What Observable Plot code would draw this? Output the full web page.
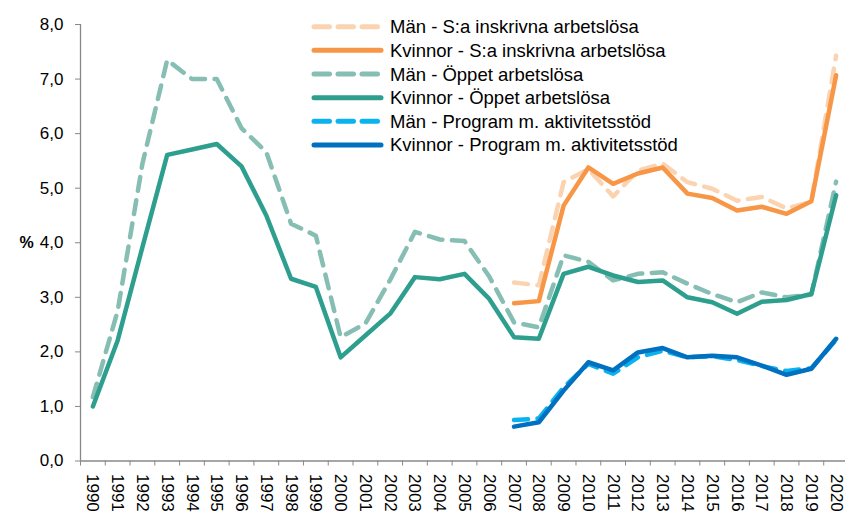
<!DOCTYPE html>
<html>
<head>
<meta charset="utf-8">
<script src="https://cdn.jsdelivr.net/npm/d3@7"></script>
<script src="https://cdn.jsdelivr.net/npm/@observablehq/plot@0.6"></script>
<style>
  body { margin: 0; background: #fff; }
  #chart svg { display: block; }
</style>
</head>
<body>
<div id="chart"></div>
<script>
// ---- Data ----
const years = [1990,1991,1992,1993,1994,1995,1996,1997,1998,1999,2000,2001,2002,2003,2004,2005,2006,2007,2008,2009,2010,2011,2012,2013,2014,2015,2016,2017,2018,2019,2020];
const yearsRecent = [2007,2008,2009,2010,2011,2012,2013,2014,2015,2016,2017,2018,2019,2020];

const menTotal   = [3.27,3.22,5.11,5.35,4.85,5.32,5.45,5.11,4.99,4.77,4.84,4.63,4.75,7.43];
const womenTotal = [2.89,2.93,4.68,5.38,5.08,5.27,5.38,4.90,4.82,4.59,4.66,4.53,4.76,7.07];
const menOpen    = [1.17,2.75,5.45,7.35,7.00,7.00,6.10,5.66,4.35,4.13,2.27,2.52,3.32,4.20,4.06,4.03,3.38,2.54,2.45,3.77,3.65,3.31,3.43,3.46,3.25,3.06,2.91,3.09,3.00,3.05,5.12];
const womenOpen  = [1.00,2.21,3.92,5.61,5.71,5.81,5.40,4.50,3.34,3.19,1.90,2.30,2.70,3.37,3.33,3.43,2.97,2.27,2.24,3.43,3.56,3.40,3.28,3.31,3.00,2.91,2.70,2.92,2.95,3.06,4.87];
const menProg    = [0.75,0.78,1.35,1.78,1.60,1.90,2.02,1.90,1.92,1.85,1.74,1.65,1.70,2.22];
const womenProg  = [0.63,0.71,1.29,1.81,1.66,1.99,2.07,1.90,1.93,1.90,1.75,1.58,1.69,2.24];

const seriesNames = [
  "Män - S:a inskrivna arbetslösa",
  "Kvinnor - S:a inskrivna arbetslösa",
  "Män - Öppet arbetslösa",
  "Kvinnor - Öppet arbetslösa",
  "Män - Program m. aktivitetsstöd",
  "Kvinnor - Program m. aktivitetsstöd"
];
const seriesColors = ["#FCD3B1", "#F79646", "#86BEB4", "#2E9F8F", "#0BB2EE", "#0070C0"];
const seriesDashed = [true, false, true, false, true, false];
const yTicks = [0,1,2,3,4,5,6,7,8];

// ---- Build tables ----
function rows(xs, vals) { return xs.map((x, i) => ({year: x, value: vals[i]})); }
const seriesData = [
  rows(yearsRecent, menTotal),
  rows(yearsRecent, womenTotal),
  rows(years, menOpen),
  rows(years, womenOpen),
  rows(yearsRecent, menProg),
  rows(yearsRecent, womenProg)
];

const fmt = d => d.toFixed(1).replace(".", ",");
const boundaries = years.map(y => y - 0.5).concat([years[years.length - 1] + 0.5]);
const DASH = "14,9.5";
const FONT = "'Liberation Sans', Arial, sans-serif";

const lineMarks = seriesData.map((data, i) =>
  Plot.line(data, {
    x: "year", y: "value",
    stroke: seriesColors[i],
    strokeWidth: 4.5,
    strokeDasharray: seriesDashed[i] ? DASH : null,
    strokeLinecap: "round",
    strokeLinejoin: "round"
  })
);

const svg = Plot.plot({
  width: 845,
  height: 512,
  marginLeft: 80,
  marginRight: -3,
  marginTop: 24,
  marginBottom: 51.5,
  style: {fontFamily: FONT, fontSize: "17px", color: "#000", background: "#fff", overflow: "visible"},
  x: {type: "linear", domain: [boundaries[0], boundaries[boundaries.length - 1]]},
  y: {domain: [0, 8]},
  marks: [
    Plot.axisY({ticks: yTicks, tickFormat: fmt, tickSize: 5, tickPadding: 12, stroke: "#888", label: null}),
    Plot.axisX({ticks: years, tickFormat: d => String(d), tickSize: 0, tickPadding: 13, tickRotate: 90, label: null}),
    Plot.axisX({ticks: boundaries, tickFormat: () => "", tickSize: 5, stroke: "#888", label: null}),
    Plot.ruleX([boundaries[0]], {stroke: "#888", strokeWidth: 1.3}),
    Plot.ruleY([0], {stroke: "#888", strokeWidth: 1.3}),
    Plot.text(["%"], {frameAnchor: "left", dx: -61, fontWeight: "bold", fontSize: 16, fill: "#000"}),
    ...lineMarks
  ]
});

// ---- Legend inside the plot area ----
const g = d3.select(svg).append("g").attr("class", "legend").attr("text-anchor", "start");
const legendX1 = 312, legendX2 = 383, legendTextX = 390, legendY0 = 26.7, legendStep = 23.65;
seriesNames.forEach((name, i) => {
  const y = legendY0 + i * legendStep;
  g.append("line")
    .attr("x1", legendX1 + 2).attr("x2", legendX2 - 2)
    .attr("y1", y).attr("y2", y)
    .attr("stroke", seriesColors[i])
    .attr("stroke-width", 5)
    .attr("stroke-linecap", "round")
    .attr("stroke-dasharray", seriesDashed[i] ? "15.5,8.5" : null);
  g.append("text")
    .attr("x", legendTextX).attr("y", y + 6.5)
    .attr("text-anchor", "start")
    .attr("font-family", FONT)
    .attr("font-size", 18.5)
    .attr("fill", "#000")
    .text(name);
});

document.getElementById("chart").appendChild(svg);
</script>
</body>
</html>
